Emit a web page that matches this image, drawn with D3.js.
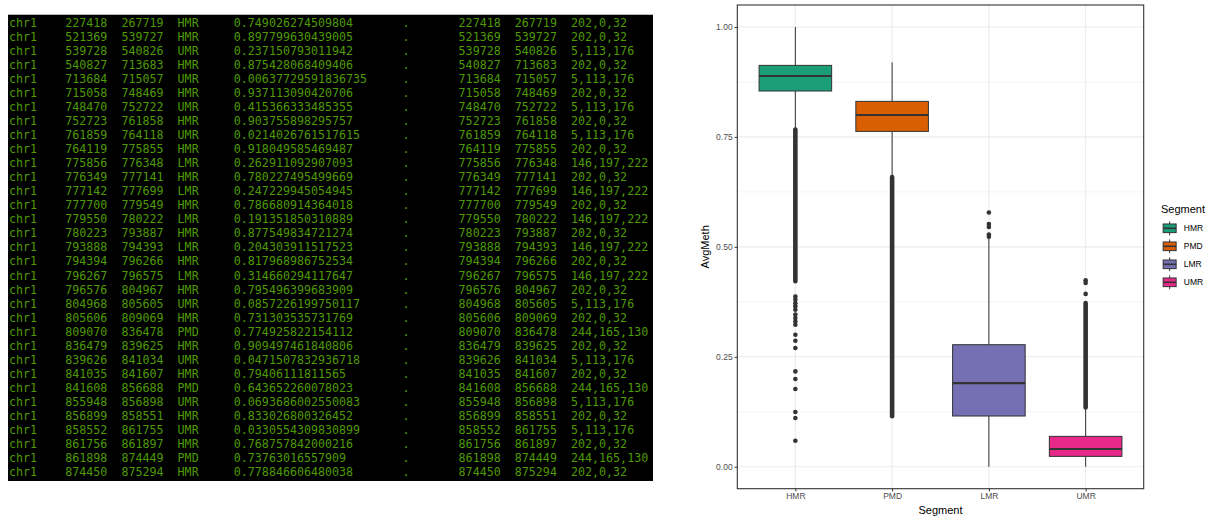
<!DOCTYPE html>
<html><head><meta charset="utf-8">
<script src="https://cdn.jsdelivr.net/npm/d3@7"></script>
<style>body{margin:0;background:#fff;} svg{display:block}</style>
</head><body>
<svg id="c" width="1206" height="516"></svg>
<script>
// ---------- terminal table data ----------
const chroms = Array(33).fill("chr1");
const starts = ["227418","521369","539728","540827","713684","715058","748470","752723","761859","764119","775856","776349","777142","777700","779550","780223","793888","794394","796267","796576","804968","805606","809070","836479","839626","841035","841608","855948","856899","858552","861756","861898","874450"];
const ends = ["267719","539727","540826","713683","715057","748469","752722","761858","764118","775855","776348","777141","777699","779549","780222","793887","794393","796266","796575","804967","805605","809069","836478","839625","841034","841607","856688","856898","858551","861755","861897","874449","875294"];
const segNames = ["HMR","HMR","UMR","HMR","UMR","HMR","UMR","HMR","UMR","HMR","LMR","HMR","LMR","HMR","LMR","HMR","LMR","HMR","LMR","HMR","UMR","HMR","PMD","HMR","UMR","HMR","PMD","UMR","HMR","UMR","HMR","PMD","HMR"];
const avgMeth = ["0.749026274509804","0.897799630439005","0.237150793011942","0.875428068409406","0.00637729591836735","0.937113090420706","0.415366333485355","0.903755898295757","0.0214026761517615","0.918049585469487","0.262911092907093","0.780227495499669","0.247229945054945","0.786680914364018","0.191351850310889","0.877549834721274","0.204303911517523","0.817968986752534","0.314660294117647","0.795496399683909","0.0857226199750117","0.731303535731769","0.774925822154112","0.909497461840806","0.0471507832936718","0.79406111811565","0.643652260078023","0.0693686002550083","0.833026800326452","0.0330554309830899","0.768757842000216","0.73763016557909","0.778846606480038"];
const strands = Array(33).fill(".");
const rgbs = ["202,0,32","202,0,32","5,113,176","202,0,32","5,113,176","202,0,32","5,113,176","202,0,32","5,113,176","202,0,32","146,197,222","202,0,32","146,197,222","202,0,32","146,197,222","202,0,32","146,197,222","202,0,32","146,197,222","202,0,32","5,113,176","202,0,32","244,165,130","202,0,32","5,113,176","202,0,32","244,165,130","5,113,176","202,0,32","5,113,176","202,0,32","244,165,130","202,0,32"];

// ---------- boxplot data ----------
const segments = ["HMR","PMD","LMR","UMR"];
const boxColors = ["#1B9E77","#D95F02","#7570B3","#E7298A"];
const whiskerLow = [0.769, 0.661, 0.0, 0.0];
const q1 = [0.8544, 0.7626, 0.1153, 0.0235];
const medians = [0.8885, 0.800, 0.190, 0.0402];
const q3 = [0.9127, 0.8308, 0.2775, 0.069];
const whiskerHigh = [1.0, 0.9195, 0.521, 0.1365];
// dense runs of overlapping outliers [low, high]
const outlierRuns = [[[0.422, 0.767]], [[0.115, 0.659]], [], [[0.1345, 0.372]]];
const outlierPoints = [
  [0.387,0.380,0.372,0.365,0.357,0.346,0.338,0.330,0.323,0.300,0.2866,0.270,0.2167,0.1995,0.1767,0.1244,0.1108,0.0591],
  [],
  [0.578,0.552,0.545,0.528,0.523],
  [0.393,0.418,0.424]
];
const yTicks = [0, 0.25, 0.5, 0.75, 1.0];
const yMinor = [0.125, 0.375, 0.625, 0.875];

const svg = d3.select("#c");

// ================= terminal =================
const term = svg.append("g");
term.append("rect").attr("x",8).attr("y",14).attr("width",645).attr("height",467).attr("fill","#000");
term.append("line").attr("x1",8).attr("x2",653).attr("y1",14.5).attr("y2",14.5).attr("stroke","#b8b8b8").attr("stroke-width",1);

const rowIdx = d3.range(starts.length);
const rowY = d3.scalePoint().domain(rowIdx).range([22.7, 472]);
const tabX = d3.scaleLinear().domain([0,1]).range([9, 65.2]); // tab stop index -> x
const cols = [
  {tab:0, arr:chroms}, {tab:1, arr:starts}, {tab:2, arr:ends}, {tab:3, arr:segNames},
  {tab:4, arr:avgMeth}, {tab:7, arr:strands}, {tab:8, arr:starts}, {tab:9, arr:ends}, {tab:10, arr:rgbs}
];
const rows = term.selectAll("g.row").data(rowIdx).join("g").attr("class","row")
  .attr("transform", i => `translate(0,${rowY(i)+4.1})`);
cols.forEach(c => {
  rows.append("text").attr("x", tabX(c.tab)).attr("y",0)
    .attr("font-family","'DejaVu Sans Mono', monospace").attr("font-size","11.67px")
    .attr("fill","#4E9A06").text(i => c.arr[i]);
});

// ================= boxplot =================
const pL = 737.3, pR = 1143.7, pT = 5, pB = 488.7;
const x = d3.scalePoint().domain(segments).range([pL, pR]).padding(0.6);
const y = d3.scaleLinear().domain([-0.05, 1.05]).range([pB, pT]);
const bw = x.step() * 0.75;
const chart = svg.append("g");
const fontSans = "'Liberation Sans', Arial, Helvetica, sans-serif";

// grid
chart.selectAll("line.ymin").data(yMinor).join("line")
  .attr("x1",pL).attr("x2",pR).attr("y1",d=>y(d)).attr("y2",d=>y(d))
  .attr("stroke","#EBEBEB").attr("stroke-width",0.55);
chart.selectAll("line.ymaj").data(yTicks).join("line")
  .attr("x1",pL).attr("x2",pR).attr("y1",d=>y(d)).attr("y2",d=>y(d))
  .attr("stroke","#EBEBEB").attr("stroke-width",1.1);
chart.selectAll("line.xmaj").data(segments).join("line")
  .attr("x1",d=>x(d)).attr("x2",d=>x(d)).attr("y1",pT).attr("y2",pB)
  .attr("stroke","#EBEBEB").attr("stroke-width",1.1);

const stroke = "#333333";
const boxes = chart.selectAll("g.box").data(segments).join("g").attr("class","box");
boxes.append("line").attr("x1",d=>x(d)).attr("x2",d=>x(d))
  .attr("y1",(d,i)=>y(whiskerHigh[i])).attr("y2",(d,i)=>y(q3[i]))
  .attr("stroke",stroke).attr("stroke-width",1);
boxes.append("line").attr("x1",d=>x(d)).attr("x2",d=>x(d))
  .attr("y1",(d,i)=>y(q1[i])).attr("y2",(d,i)=>y(whiskerLow[i]))
  .attr("stroke",stroke).attr("stroke-width",1);
boxes.append("rect").attr("x",d=>x(d)-bw/2).attr("width",bw)
  .attr("y",(d,i)=>y(q3[i])).attr("height",(d,i)=>y(q1[i])-y(q3[i]))
  .attr("fill",(d,i)=>boxColors[i]).attr("stroke",stroke).attr("stroke-width",1);
boxes.append("line").attr("x1",d=>x(d)-bw/2).attr("x2",d=>x(d)+bw/2)
  .attr("y1",(d,i)=>y(medians[i])).attr("y2",(d,i)=>y(medians[i]))
  .attr("stroke",stroke).attr("stroke-width",2.1);
const r = 2.3;
boxes.each(function(d,i){
  const g = d3.select(this);
  g.selectAll("line.run").data(outlierRuns[i]).join("line").attr("class","run")
    .attr("x1",x(d)).attr("x2",x(d)).attr("y1",v=>y(v[1])).attr("y2",v=>y(v[0]))
    .attr("stroke",stroke).attr("stroke-width",2*r).attr("stroke-linecap","round");
  g.selectAll("circle").data(outlierPoints[i]).join("circle")
    .attr("cx",x(d)).attr("cy",v=>y(v)).attr("r",r).attr("fill",stroke);
});

// panel border
chart.append("rect").attr("x",pL).attr("y",pT).attr("width",pR-pL).attr("height",pB-pT)
  .attr("fill","none").attr("stroke",stroke).attr("stroke-width",1.1);

// axes
const yAxis = chart.append("g").attr("transform",`translate(${pL},0)`)
  .call(d3.axisLeft(y).tickValues(yTicks).tickFormat(d3.format(".2f")).tickSize(2.7).tickPadding(2));
const xAxis = chart.append("g").attr("transform",`translate(0,${pB})`)
  .call(d3.axisBottom(x).tickSize(2.7).tickPadding(2));
[yAxis,xAxis].forEach(a=>{
  a.select(".domain").remove();
  a.selectAll(".tick line").attr("stroke",stroke).attr("stroke-width",1);
  a.selectAll(".tick text").attr("fill","#4D4D4D").attr("font-family",fontSans).attr("font-size","8.5px");
});

chart.append("text").attr("x",(pL+pR)/2).attr("y",514).attr("text-anchor","middle")
  .attr("font-family",fontSans).attr("font-size","11px").attr("fill","#000").text("Segment");
chart.append("text").attr("transform",`translate(709,${(pT+pB)/2}) rotate(-90)`).attr("text-anchor","middle")
  .attr("font-family",fontSans).attr("font-size","11px").attr("fill","#000").text("AvgMeth");

// legend
const leg = chart.append("g").attr("transform","translate(1161,0)");
leg.append("text").attr("x",0).attr("y",213).attr("font-family",fontSans).attr("font-size","11px").text("Segment");
const keyY = d3.scalePoint().domain(segments).range([228.3, 282.3]);
const ks = 17.3;
const keys = leg.selectAll("g.key").data(segments).join("g").attr("class","key")
  .attr("transform",d=>`translate(0,${keyY(d)-ks/2})`);
keys.append("line").attr("x1",ks/2).attr("x2",ks/2).attr("y1",ks*0.1).attr("y2",ks*0.9)
  .attr("stroke",stroke).attr("stroke-width",1);
keys.append("rect").attr("x",ks*0.125).attr("width",ks*0.75).attr("y",ks*0.25).attr("height",ks*0.5)
  .attr("fill",(d,i)=>boxColors[i]).attr("stroke",stroke).attr("stroke-width",1);
keys.append("line").attr("x1",ks*0.125).attr("x2",ks*0.875).attr("y1",ks/2).attr("y2",ks/2)
  .attr("stroke",stroke).attr("stroke-width",1.6);
keys.append("text").attr("x",ks+5.5).attr("y",ks/2).attr("dy","0.35em")
  .attr("font-family",fontSans).attr("font-size","8.5px").attr("fill","#000").text(d=>d);
</script>
</body></html>
